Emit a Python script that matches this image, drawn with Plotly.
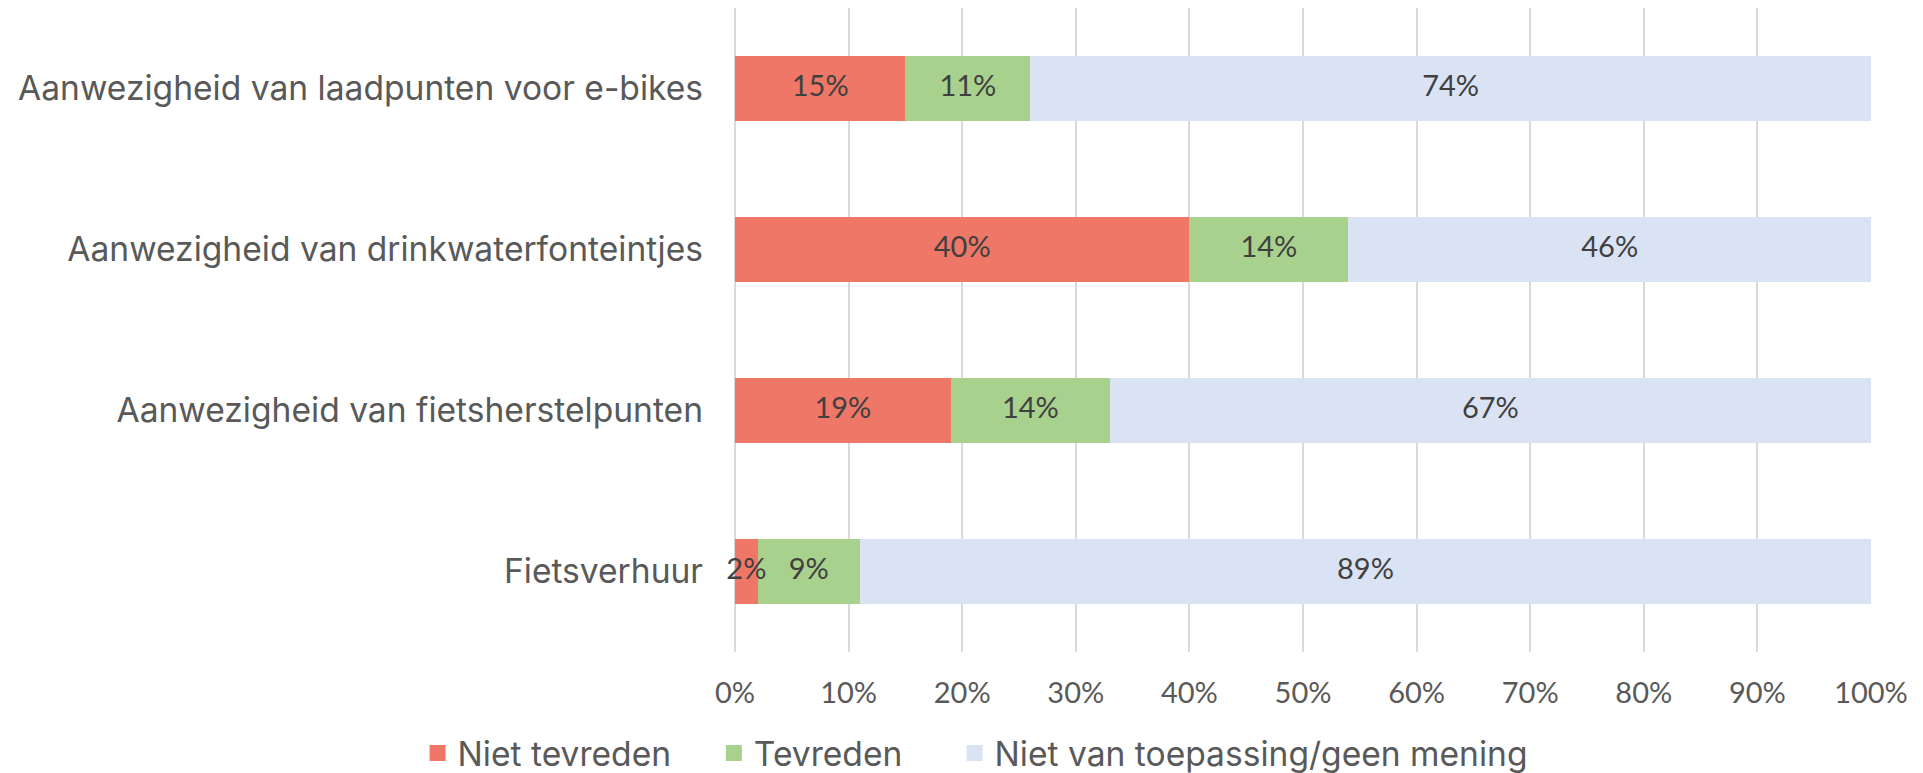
import plotly.graph_objects as go

categories = [
    "Aanwezigheid van laadpunten voor e-bikes",
    "Aanwezigheid van drinkwaterfonteintjes",
    "Aanwezigheid van fietsherstelpunten",
    "Fietsverhuur",
]
niet_tevreden = [15, 40, 19, 2]
tevreden = [11, 14, 14, 9]
niet_van_toepassing = [74, 46, 67, 89]
series_names = ["Niet tevreden", "Tevreden", "Niet van toepassing/geen mening"]
colors = ["#EF7767", "#A9D18E", "#DAE3F3"]
x_ticks = [0, 10, 20, 30, 40, 50, 60, 70, 80, 90, 100]

CAT_FONT = "Inter"
NUM_FONT = "Lato"
pads = ["\u00a0" * 4, "\u00a0" * 5, ""]

series_vals = [niet_tevreden, tevreden, niet_van_toepassing]

fig = go.Figure()
for name, vals, col, pad in zip(series_names, series_vals, colors, pads):
    fig.add_trace(go.Bar(
        y=categories, x=[v / 100 for v in vals], orientation="h", name=name,
        marker=dict(color=col, line=dict(width=0)),
        showlegend=False, hoverinfo="skip",
    ))
    fig.add_trace(go.Scatter(
        x=[None], y=[None], mode="markers", name=name + pad,
        marker=dict(symbol="square", size=16, color=col),
    ))

# data labels on top of all bars (centre of each stacked segment)
lab_x, lab_y, lab_t = [], [], []
for ci, cat in enumerate(categories):
    base = 0
    for vals in series_vals:
        v = vals[ci]
        lab_x.append((base + v / 2) / 100)
        lab_y.append(cat)
        lab_t.append(f"{v}%")
        base += v
fig.add_trace(go.Scatter(
    x=lab_x, y=lab_y, text=lab_t, mode="text", textposition="middle center",
    textfont=dict(family=NUM_FONT, size=29, color="#404040"),
    cliponaxis=False, showlegend=False, hoverinfo="skip",
))

fig.update_layout(
    barmode="stack", bargap=0.6,
    width=1915, height=765,
    margin=dict(l=727, r=52, t=0, b=121, autoexpand=False),
    paper_bgcolor="white", plot_bgcolor="white",
    legend=dict(
        orientation="h", xref="container", yref="paper",
        x=0.505, xanchor="center", y=-0.157, yanchor="middle",
        font=dict(family=CAT_FONT, size=33.6, color="#595959"),
        itemsizing="trace", itemwidth=30, traceorder="normal",
    ),
)
fig.update_xaxes(
    range=[0, 1], tickvals=[t / 100 for t in x_ticks], ticktext=[f"{t}%" for t in x_ticks],
    showgrid=True, gridcolor="#D9D9D9", gridwidth=1.5,
    zeroline=True, zerolinecolor="#D9D9D9", zerolinewidth=1.5,
    showline=False, ticks="", ticklabelstandoff=21,
    tickfont=dict(family=NUM_FONT, size=29, color="#595959"),
    fixedrange=True,
)
fig.update_yaxes(
    categoryorder="array", categoryarray=categories[::-1],
    showgrid=False, showline=False, ticks="", ticklabelstandoff=31,
    tickfont=dict(family=CAT_FONT, size=33.6, color="#595959"),
)
fig.write_html("out.html")
